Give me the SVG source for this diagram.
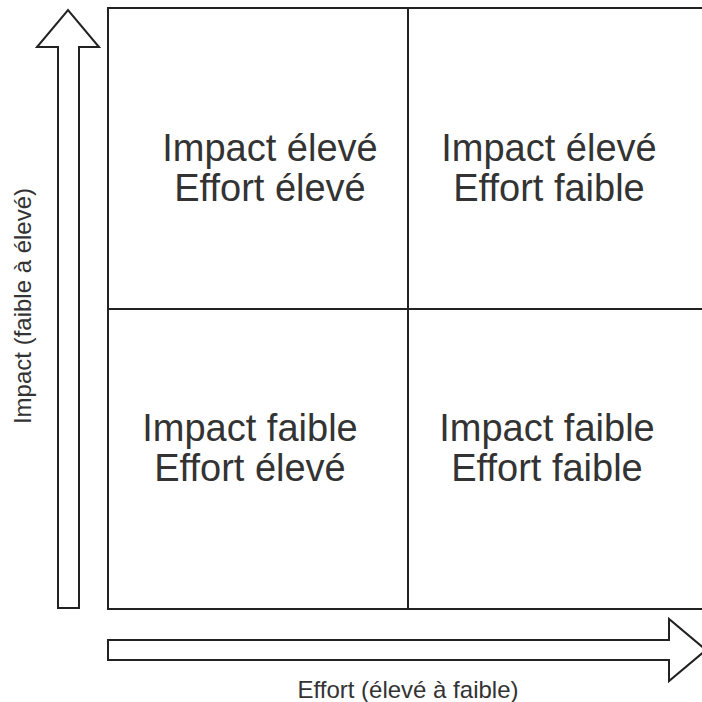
<svg xmlns="http://www.w3.org/2000/svg" width="702" height="702" viewBox="0 0 702 702">
<style>
.ln{fill:none;stroke:#222;stroke-width:2}
.ar{fill:#fff;stroke:#222;stroke-width:2;stroke-linejoin:miter}
.q{font-family:"Liberation Sans",Arial,sans-serif;font-size:38px;fill:#333;text-anchor:middle}
.ax{font-family:"Liberation Sans",Arial,sans-serif;font-size:24px;fill:#333;text-anchor:middle}
</style>
<rect width="702" height="702" fill="#fff"/>
<g id="connectors">
<polygon id="arrow-impact" class="ar" points="58,608 58,47 37,47 68,10 99,47 79,47 79,608"/>
<polygon id="arrow-effort" class="ar" points="108,640 669,640 669,619 706,650 669,681 669,660 108,660"/>
</g>
<g id="grid">
<rect class="ln" x="108" y="8" width="600" height="601"/>
<line class="ln" x1="408" y1="8" x2="408" y2="609"/>
<line class="ln" x1="108" y1="309" x2="708" y2="309"/>
</g>
<g id="q-tl"><text class="q" x="270" y="161">Impact élevé</text><text class="q" x="270" y="201">Effort élevé</text></g>
<g id="q-tr"><text class="q" x="549" y="161">Impact élevé</text><text class="q" x="549" y="201">Effort faible</text></g>
<g id="q-bl"><text class="q" x="250" y="441">Impact faible</text><text class="q" x="250" y="481">Effort élevé</text></g>
<g id="q-br"><text class="q" x="547" y="441">Impact faible</text><text class="q" x="547" y="481">Effort faible</text></g>
<g id="label-y"><text class="ax" transform="translate(31,306) rotate(-90)">Impact (faible à élevé)</text></g>
<g id="label-x"><text class="ax" x="408" y="698">Effort (élevé à faible)</text></g>
</svg>
